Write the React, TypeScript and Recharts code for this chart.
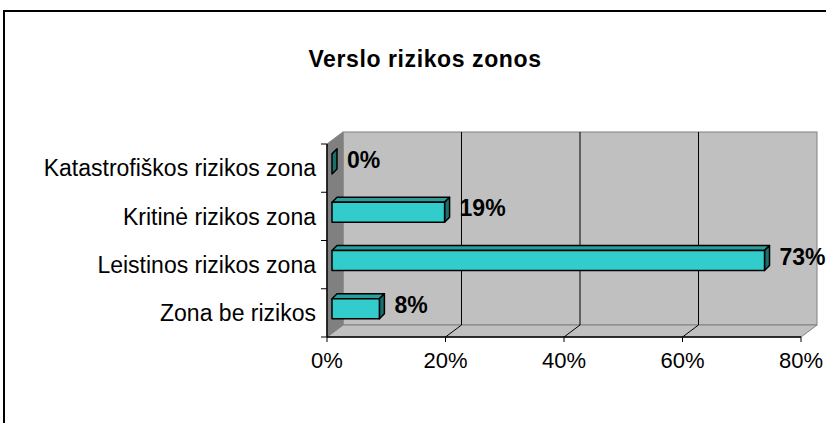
import { BarChart, Bar, XAxis, YAxis, LabelList, usePlotArea } from 'recharts'

// Verslo rizikos zonos (Excel-style 3D horizontal bars)
const categories = [
  'Katastrofiškos rizikos zona',
  'Kritinė rizikos zona',
  'Leistinos rizikos zona',
  'Zona be rizikos',
]
const shares = [0, 19, 73, 8]
const xTicks = [0, 20, 40, 60, 80]

const data = categories.map((name, i) => ({ name, value: shares[i] }))

const FONT = '"Liberation Sans", Arial, sans-serif'
const DEPTH_X = 16 // wall depth
const DEPTH_Y = 12
const BAR_DX = 5 // bars sit at mid depth
const BAR_DY = 4
const BAR_D = 5 // bar thickness

function Walls() {
  const plot = usePlotArea()
  if (!plot) return null
  const { x, y, width, height } = plot
  const bottom = y + height
  const gx = (v: number) => x + (v / xTicks[xTicks.length - 1]) * width
  const band = height / categories.length
  return (
    <g>
      <rect x={x + DEPTH_X} y={y - DEPTH_Y} width={width} height={height} fill="#c0c0c0" stroke="#808080" />
      <polygon
        points={`${x},${bottom} ${x + DEPTH_X},${bottom - DEPTH_Y} ${x + width + DEPTH_X},${bottom - DEPTH_Y} ${x + width},${bottom}`}
        fill="#c0c0c0"
        stroke="#808080"
      />
      <polygon
        points={`${x},${y} ${x + DEPTH_X},${y - DEPTH_Y} ${x + DEPTH_X},${bottom - DEPTH_Y} ${x},${bottom}`}
        fill="#808080"
        stroke="#808080"
      />
      {xTicks.slice(1, -1).map((t) => (
        <g key={t} stroke="#000" strokeWidth={1}>
          <line x1={gx(t) + DEPTH_X} y1={y - DEPTH_Y} x2={gx(t) + DEPTH_X} y2={bottom - DEPTH_Y} />
          <line x1={gx(t)} y1={bottom} x2={gx(t) + DEPTH_X} y2={bottom - DEPTH_Y} />
        </g>
      ))}
      {categories.concat(['']).map((_, i) => (
        <line key={i} x1={x - 6} x2={x} y1={y + i * band} y2={y + i * band} stroke="#000" />
      ))}
    </g>
  )
}

function Title() {
  return (
    <text x={425} y={59} textAnchor="middle" dominantBaseline="central" fontFamily={FONT} fontSize={23} fontWeight="bold" letterSpacing={0.6} fill="#000">
      Verslo rizikos zonos
    </text>
  )
}

// eslint-disable-next-line @typescript-eslint/no-explicit-any
const Bar3D = (props: any) => {
  const { x, y, width, height } = props
  const w = Math.max(width || 0, 0)
  const fx = x + BAR_DX
  const fy = y - BAR_DY
  return (
    <g stroke="#000" strokeWidth={1.5} strokeLinejoin="round">
      <polygon
        points={`${fx},${fy} ${fx + BAR_D},${fy - BAR_D} ${fx + w + BAR_D},${fy - BAR_D} ${fx + w},${fy}`}
        fill="#2a9d9d"
      />
      <polygon
        points={`${fx + w},${fy} ${fx + w + BAR_D},${fy - BAR_D} ${fx + w + BAR_D},${fy + height - BAR_D} ${fx + w},${fy + height}`}
        fill="#1d6f6f"
      />
      {w > 0 && <rect x={fx} y={fy} width={w} height={height} fill="#33cccc" />}
    </g>
  )
}

// eslint-disable-next-line @typescript-eslint/no-explicit-any
const renderValue = (props: any) => {
  const { x, y, width, height, value } = props
  return (
    <text
      x={x + width + BAR_DX + BAR_D + 10}
      y={y + height / 2 - BAR_DY - 4}
      dy="0.35em"
      fontFamily={FONT}
      fontSize={23}
      fontWeight="bold"
      fill="#000"
    >
      {value}%
    </text>
  )
}

export default function App() {
  return (
    <div style={{ position: 'absolute', left: 0, top: 0, width: 826, height: 423, overflow: 'hidden', background: '#fff' }}>
      <div style={{ position: 'absolute', left: 3, top: 10, width: 900, height: 500, border: '2px solid #000' }} />
      <div style={{ position: 'absolute', left: 0, top: 0 }}>
        <BarChart
          width={826}
          height={423}
          data={data}
          layout="vertical"
          margin={{ top: 144, right: 25, bottom: 46, left: 0 }}
          barSize={20}
        >
          <Walls />
          <Title />
          <XAxis
            type="number"
            domain={[0, 80]}
            ticks={xTicks}
            interval={0}
            tickFormatter={(v: number) => `${v}%`}
            height={40}
            tickSize={5}
            tickMargin={10}
            axisLine={{ stroke: '#000', strokeWidth: 1.5 }}
            tickLine={{ stroke: '#000' }}
            tick={{ fill: '#000', fontSize: 22, fontFamily: FONT }}
          />
          <YAxis
            type="category"
            dataKey="name"
            width={327}
            interval={0}
            tickLine={false}
            tickMargin={5}
            axisLine={{ stroke: '#000', strokeWidth: 1.5 }}
            tick={{ fill: '#000', fontSize: 23, fontFamily: FONT }}
          />
          <Bar dataKey="value" shape={Bar3D} isAnimationActive={false}>
            <LabelList dataKey="value" content={renderValue} />
          </Bar>
        </BarChart>
      </div>
    </div>
  )
}
